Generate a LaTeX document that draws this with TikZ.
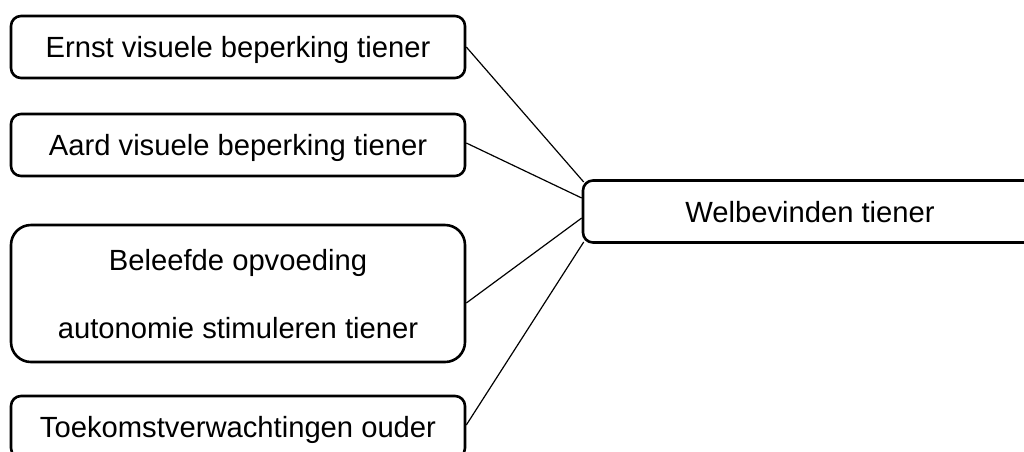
\documentclass[tikz,border=0pt]{standalone}
\usepackage{fontspec}
\setmainfont{Liberation Sans}
\begin{document}
\begin{tikzpicture}[x=1pt,y=-1pt,
  factor/.style={draw, line width=2.6pt, rounded corners=10pt,
    minimum width=454pt, minimum height=62pt, inner sep=0pt,
    text height=21pt, text depth=0pt,
    font=\fontsize{29.2}{35}\selectfont},
  link/.style={line width=1.2pt}]
\useasboundingbox (0,0) rectangle (1024,451);
\clip (0,0) rectangle (1024,451);

% factors on the left
\node[factor] (ernst) at (238,47) {Ernst visuele beperking tiener};
\node[factor] (aard) at (238,145) {Aard visuele beperking tiener};
\node[factor, rounded corners=20pt, minimum height=137pt, align=center,
      text height=89pt, text depth=0pt] (opv) at (238,293.5)
      {Beleefde opvoeding\\[33pt]autonomie stimuleren tiener};
\node[factor] (toek) at (238,427) {Toekomstverwachtingen ouder};

% outcome on the right
\node[factor] (welb) at (810,211.5) {Welbevinden tiener};

% links from each factor to the outcome
\draw[link] (ernst.east) -- ([shift={(2,-29.5)}]welb.west);
\draw[link] ([shift={(0,-2)}]aard.east) -- ([shift={(0,-13.5)}]welb.west);
\draw[link] ([shift={(0,9.5)}]opv.east) -- ([shift={(0,6.5)}]welb.west);
\draw[link] ([shift={(0,-2)}]toek.east) -- ([shift={(2,30.5)}]welb.west);
\end{tikzpicture}
\end{document}
